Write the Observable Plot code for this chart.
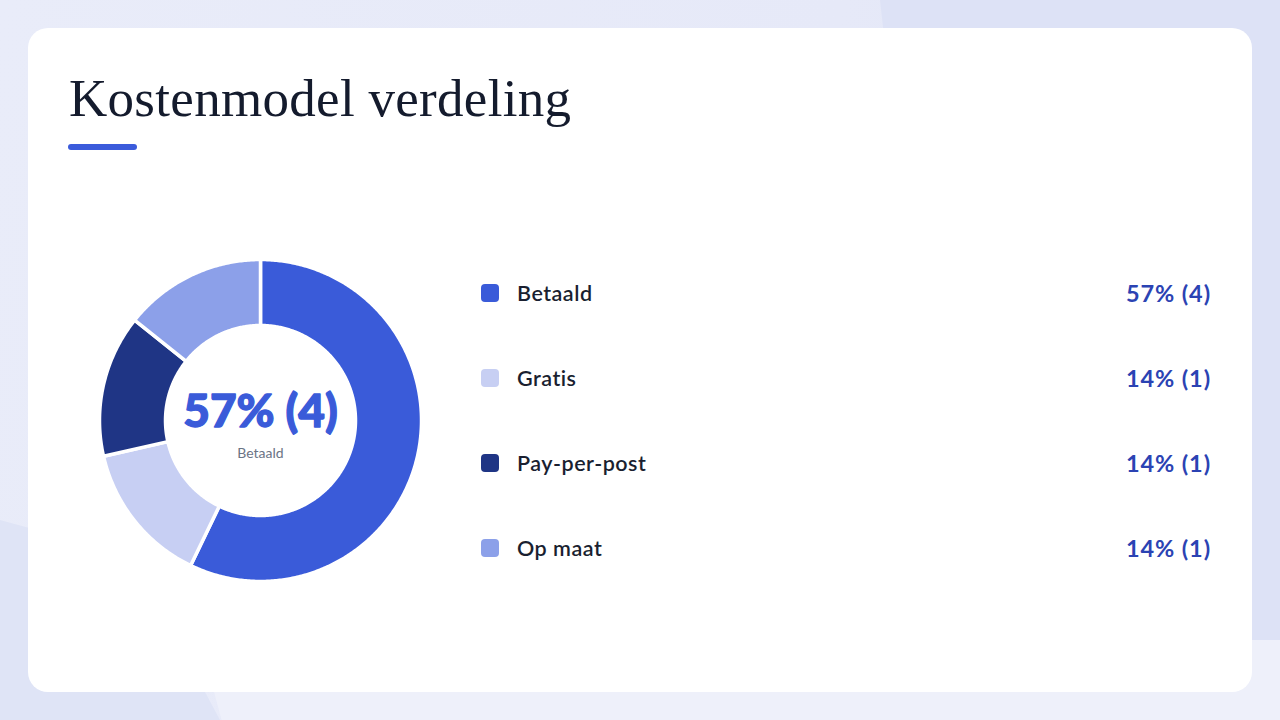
<!DOCTYPE html>
<html>
<head>
<meta charset="utf-8">
<script src="https://cdn.jsdelivr.net/npm/d3@7"></script>
<script src="https://cdn.jsdelivr.net/npm/@observablehq/plot@0.6"></script>
<style>
  html, body { margin: 0; padding: 0; }
  body {
    width: 1280px; height: 720px; overflow: hidden; position: relative;
    background: #e3e7f7;
    font-family: Lato, "Noto Sans", sans-serif;
  }
  .bg1 { position: absolute; left: 0; top: 0; width: 1280px; height: 720px;
    background: linear-gradient(100deg, #e9ecf9 0%, #e6e9f8 60%, #dfe3f6 100%); }
  .bg2 { position: absolute; left: 880px; top: 0; width: 400px; height: 720px;
    background: #dde2f6; clip-path: polygon(0 0, 100% 0, 100% 100%, 20% 100%); }
  .bg3 { position: absolute; left: 0; top: 520px; width: 220px; height: 200px;
    background: #dfe4f6; clip-path: polygon(0 0, 60% 18%, 100% 100%, 0 100%); }
  .bg4 { position: absolute; left: 200px; top: 640px; width: 1080px; height: 80px;
    background: #eef0fa; clip-path: polygon(0 0, 100% 0, 100% 100%, 2% 100%); }
  .card { position: absolute; left: 28px; top: 28px; width: 1224px; height: 664px;
    background: #ffffff; border-radius: 20px; }
  .title { position: absolute; left: 69px; top: 68px; margin: 0;
    font-family: "Liberation Serif", "DejaVu Serif", serif; font-weight: 400;
    font-size: 53px; line-height: 60px; color: #141b2d; letter-spacing: 0.3px; white-space: nowrap; }
  .bar { position: absolute; left: 68px; top: 144px; width: 69px; height: 6px;
    border-radius: 3px; background: #3b5bdb; }
  #donut { position: absolute; left: 90px; top: 250px; }
  #legend { position: absolute; left: 481px; top: 250px; width: 730px; }
  .row { position: absolute; left: 0; width: 730px; height: 30px; display: flex; align-items: center; }
  .sw { width: 18px; height: 18px; border-radius: 4px; flex: none; }
  .lab { margin-left: 18px; font-size: 21.5px; font-weight: 600; color: #1a1f30; letter-spacing: 0.5px; }
  .val { margin-left: auto; font-size: 23.5px; font-weight: 700; color: #2b43b3; letter-spacing: 0.9px; }
</style>
</head>
<body>
<div class="bg1"></div><div class="bg2"></div><div class="bg3"></div><div class="bg4"></div>
<div class="card"></div>
<h1 class="title">Kostenmodel verdeling</h1>
<div class="bar"></div>
<div id="donut"></div>
<div id="legend"></div>
<script>
// ---- data ----
const categories = ["Betaald", "Gratis", "Pay-per-post", "Op maat"];
const counts = [4, 1, 1, 1];
const percentLabels = ["57% (4)", "14% (1)", "14% (1)", "14% (1)"];
const colors = ["#3a5bd9", "#c7cff3", "#1f3585", "#8ca0e9"];

// ---- geometry derived from data ----
const outerR = 161, innerR = 95;
const pie = d3.pie().sort(null).value(d => d.count);
const rows = categories.map((c, i) => ({category: c, count: counts[i], label: percentLabels[i]}));
const arcs = pie(rows);
const pts = [];
for (const a of arcs) {
  const n = Math.max(8, Math.ceil((a.endAngle - a.startAngle) / 0.01));
  const angles = d3.range(n + 1).map(k => a.startAngle + (a.endAngle - a.startAngle) * k / n);
  for (const t of angles) pts.push({category: a.data.category, x: outerR * Math.sin(t), y: outerR * Math.cos(t)});
  for (const t of angles.slice().reverse()) pts.push({category: a.data.category, x: innerR * Math.sin(t), y: innerR * Math.cos(t)});
}
const leader = rows[0];

const chart = Plot.plot({
  width: 340, height: 340, margin: 0,
  x: {domain: [-170, 170], axis: null},
  y: {domain: [-170, 170], axis: null},
  color: {domain: categories, range: colors},
  style: {background: "transparent", overflow: "visible"},
  marks: [
    Plot.line(pts, {x: "x", y: "y", z: "category", fill: "category", stroke: "white", strokeWidth: 3.5, curve: "linear-closed"}),
    Plot.text([leader], {text: d => d.label, frameAnchor: "middle", dy: -8, fontSize: 46, fontWeight: 900, fill: "#3a5bd9", stroke: "#3a5bd9", strokeWidth: 1.3, fontFamily: "Lato, 'Noto Sans', sans-serif", letterSpacing: 0.5}),
    Plot.text([leader], {text: d => d.category, frameAnchor: "middle", dy: 33, fontSize: 14, fill: "#6b7385", fontFamily: "Lato, 'Noto Sans', sans-serif"})
  ]
});
document.getElementById("donut").appendChild(chart);

// ---- legend ----
const legend = document.getElementById("legend");
const rowY = d3.scalePoint().domain(categories).range([28, 283]);
rows.forEach((r, i) => {
  const div = document.createElement("div");
  div.className = "row";
  div.style.top = (rowY(r.category)) + "px";
  div.innerHTML = `<span class="sw" style="background:${colors[i]}"></span><span class="lab">${r.category}</span><span class="val">${r.label}</span>`;
  legend.appendChild(div);
});
</script>
</body>
</html>
